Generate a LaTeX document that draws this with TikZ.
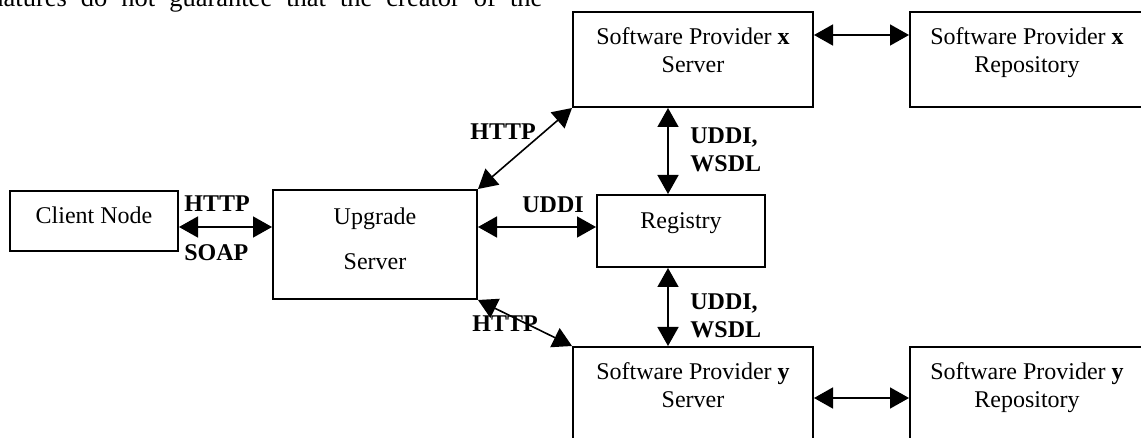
\documentclass[tikz,border=0pt]{standalone}
\usepackage{fontspec}
\setmainfont{Liberation Serif}
\usetikzlibrary{arrows.meta,positioning}

\newcommand\boxfont{\fontsize{12}{14}\selectfont}

\tikzset{
  box/.style={rectangle, draw, line width=1pt},
  link/.style={{Triangle[length=9.5pt,width=10.5pt]}-{Triangle[length=9.5pt,width=10.5pt]}, line width=0.8pt},
  txt/.style={inner sep=0pt, anchor=base, align=center, font=\boxfont},
  lbl/.style={inner sep=0pt, anchor=base west, align=left, font=\boxfont\bfseries}
}

\begin{document}
\begin{tikzpicture}[x=0.5pt, y=-0.5pt]
  \path[use as bounding box, fill=white] (0,0) rectangle (1141,438);

  % running text above the figure
  \node[anchor=base west, inner sep=0pt, font=\fontsize{13.25}{15}\selectfont] (para) at (-10,7)
    {\spaceskip=7pt natures do not guarantee that the creator of the};

  % boxes
  \node[box, minimum width=84pt, minimum height=30pt] (client) at (94,221) {};
  \node[box, minimum width=102pt, minimum height=54.5pt] (upgrade) at (375,244.5) {};
  \node[box, minimum width=84pt, minimum height=36pt] (registry) at (681,231) {};
  \node[box, minimum width=120pt, minimum height=47.5pt] (spx) at (693,59.5) {};
  \node[box, right=47.5pt of spx, minimum width=119pt, minimum height=47.5pt] (spxrepo) {};
  \node[box, minimum width=120pt, minimum height=47.5pt] (spy) at (693,394.5) {};
  \node[box, right=47.5pt of spy, minimum width=119pt, minimum height=47.5pt] (spyrepo) {};

  \node[txt] (clienttext) at (94,224) {Client Node};
  \node[txt] (upgradetext) at (375,270) {Upgrade\\[8.5pt]Server};
  \node[txt] (registrytext) at (681,229) {Registry};
  \node[txt] (spxtext) at (693,73) {Software Provider \textbf{x}\\Server};
  \node[txt] (spxrepotext) at (1027,73) {Software Provider \textbf{x}\\Repository};
  \node[txt] (spytext) at (693,408) {Software Provider \textbf{y}\\Server};
  \node[txt] (spyrepotext) at (1027,408) {Software Provider \textbf{y}\\Repository};

  % connections
  \draw[link] (client.east |- 0,227) -- (upgrade.west |- 0,227);
  \draw[link] (upgrade.east |- 0,227) -- (registry.west |- 0,227);
  \draw[link] (upgrade.north east) -- (spx.south west);
  \draw[link] (upgrade.south east) -- (spy.north west);
  \draw[link] (spx.south -| 668,0) -- (registry.north -| 668,0);
  \draw[link] (registry.south -| 668,0) -- (spy.north -| 668,0);
  \draw[link] (spx.east |- 0,35) -- (spxrepo.west |- 0,35);
  \draw[link] (spy.east |- 0,398) -- (spyrepo.west |- 0,398);

  % protocols
  \node[lbl] (http1) at (184,212) {HTTP};
  \node[lbl] (soap) at (184,261) {SOAP};
  \node[lbl] (uddi) at (522,213) {UDDI};
  \node[lbl] (http2) at (470,140) {HTTP};
  \node[lbl] (http3) at (472,332) {HTTP};
  \node[lbl] (uddi1) at (690,172) {UDDI,\\WSDL};
  \node[lbl] (uddi2) at (690,338) {UDDI,\\WSDL};
\end{tikzpicture}
\end{document}
